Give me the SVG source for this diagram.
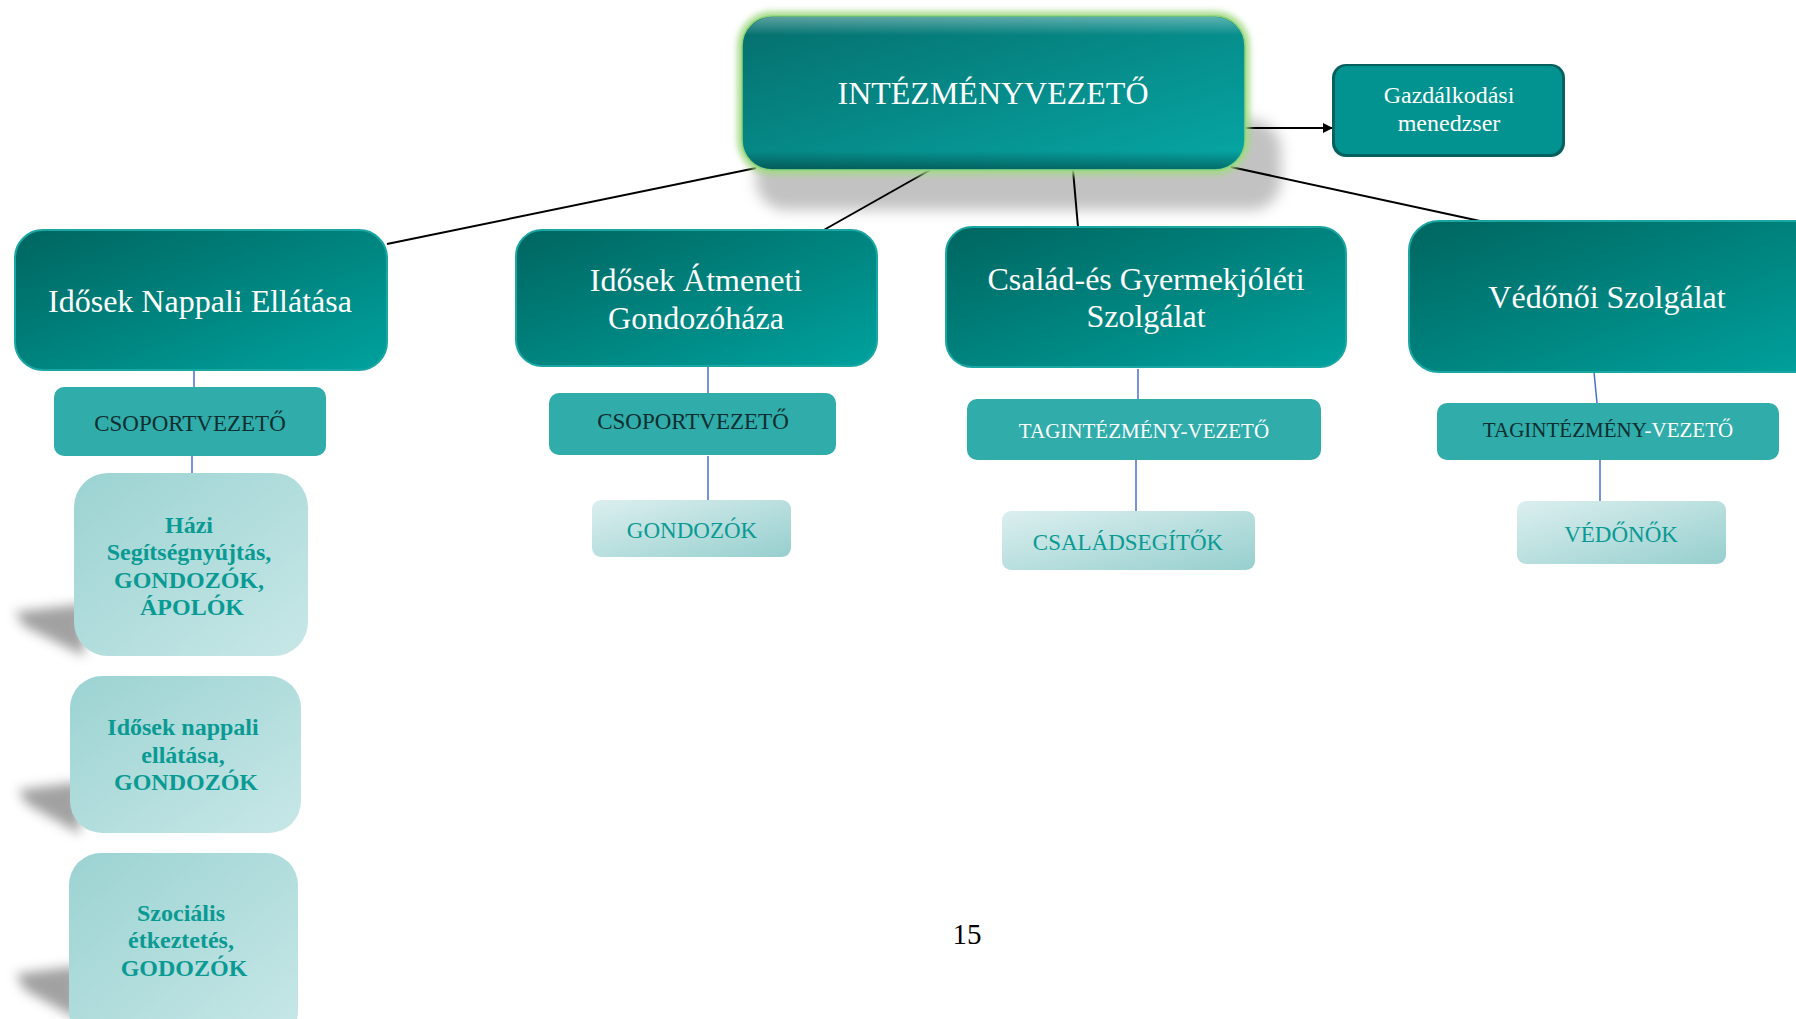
<svg xmlns="http://www.w3.org/2000/svg" width="1796" height="1019" viewBox="0 0 1796 1019">
<defs>
<linearGradient id="gDark" x1="0" y1="0" x2="1" y2="1">
<stop offset="0" stop-color="#00655f"/>
<stop offset="1" stop-color="#00a29e"/>
</linearGradient>
<linearGradient id="gTop" x1="0" y1="0" x2="1" y2="1">
<stop offset="0" stop-color="#056e6c"/>
<stop offset="1" stop-color="#06a8a6"/>
</linearGradient>
<linearGradient id="gLight" x1="0" y1="0" x2="1" y2="1">
<stop offset="0" stop-color="#9bd3d2"/>
<stop offset="1" stop-color="#c8e7e7"/>
</linearGradient>
<linearGradient id="gPale" x1="0" y1="0" x2="1" y2="1">
<stop offset="0" stop-color="#dcefef"/>
<stop offset="1" stop-color="#96cfce"/>
</linearGradient>
<linearGradient id="gHi" x1="0" y1="0" x2="0" y2="1">
<stop offset="0" stop-color="#ffffff" stop-opacity="0.35"/>
<stop offset="0.12" stop-color="#ffffff" stop-opacity="0"/>
<stop offset="0.88" stop-color="#000000" stop-opacity="0"/>
<stop offset="1" stop-color="#000000" stop-opacity="0.35"/>
</linearGradient>
<filter id="blur8" x="-20%" y="-50%" width="140%" height="200%"><feGaussianBlur stdDeviation="7"/></filter>
<filter id="blur4" x="-60%" y="-60%" width="220%" height="220%"><feGaussianBlur stdDeviation="6"/></filter>
<filter id="glow" x="-10%" y="-20%" width="120%" height="140%"><feGaussianBlur stdDeviation="3"/></filter>
<marker id="arr" markerWidth="10" markerHeight="10" refX="9" refY="5" orient="auto" markerUnits="userSpaceOnUse">
<path d="M0,0 L10,5 L0,10 Z" fill="#000"/>
</marker>
<style>
.serif{font-family:"Liberation Serif","Times New Roman",serif;}
.w{fill:#ffffff;}
.dk{fill:#0f2e2e;}
.tl{fill:#0a9a94;}
.l2{fill:url(#gDark);stroke:#1aa6a2;stroke-width:2;}
.l3{fill:#30acab;}
.l4{fill:url(#gLight);}
.l5{fill:url(#gPale);}
.conn{stroke:#000;stroke-width:2;fill:none;}
.blue{stroke:#4a6fd0;stroke-width:1.5;fill:none;}
.sh{fill:#8a8a8a;opacity:0.8;}
</style>
</defs>
<rect width="1796" height="1019" fill="#ffffff"/>

<rect x="756" y="120" width="525" height="90" rx="30" fill="#c2c2c2" filter="url(#blur8)"/>

<g id="connectors">
<line class="conn" x1="756" y1="168" x2="387" y2="244"/>
<line class="conn" x1="930" y1="170" x2="822" y2="231"/>
<line class="conn" x1="1073" y1="170" x2="1078" y2="227"/>
<line class="conn" x1="1231" y1="167" x2="1480" y2="221"/>
<line class="conn" x1="1245" y1="128" x2="1332" y2="128" marker-end="url(#arr)"/>
<line class="blue" x1="194" y1="370" x2="194" y2="387"/>
<line class="blue" x1="192" y1="456" x2="192" y2="473"/>
<line class="blue" x1="708" y1="367" x2="708" y2="393"/>
<line class="blue" x1="708" y1="456" x2="708" y2="501"/>
<line class="blue" x1="1138" y1="369" x2="1138" y2="399"/>
<line class="blue" x1="1136" y1="460" x2="1136" y2="511"/>
<line class="blue" x1="1594" y1="372" x2="1597" y2="403"/>
<line class="blue" x1="1600" y1="460" x2="1600" y2="512"/>
</g>

<g id="n-intezmenyvezeto">
<rect x="742" y="16" width="503" height="154" rx="30" fill="none" stroke="#a3da86" stroke-width="9" filter="url(#glow)"/>
<rect x="742" y="16" width="503" height="154" rx="30" fill="url(#gTop)" stroke="#8fd378" stroke-width="1.5"/>
<rect x="743" y="17" width="501" height="152" rx="29" fill="url(#gHi)"/>
<text class="serif w" x="993" y="104" font-size="32" text-anchor="middle">INTÉZMÉNYVEZETŐ</text>
</g>

<g id="n-gazdalkodasi">
<rect x="1332" y="64" width="233" height="93" rx="14" fill="#05605e"/>
<rect x="1335" y="66" width="227" height="88" rx="12" fill="#02928f"/>
<text class="serif w" x="1449" y="103" font-size="24" text-anchor="middle">Gazdálkodási</text>
<text class="serif w" x="1449" y="131" font-size="24" text-anchor="middle">menedzser</text>
</g>

<g id="n-nappali">
<rect class="l2" x="15" y="230" width="372" height="140" rx="28"/>
<text class="serif w" x="200" y="312" font-size="32" text-anchor="middle">Idősek Nappali Ellátása</text>
</g>

<g id="n-atmeneti">
<rect class="l2" x="516" y="230" width="361" height="136" rx="26"/>
<text class="serif w" x="696" y="291" font-size="32" text-anchor="middle">Idősek Átmeneti</text>
<text class="serif w" x="696" y="329" font-size="32" text-anchor="middle">Gondozóháza</text>
</g>

<g id="n-csalad">
<rect class="l2" x="946" y="227" width="400" height="140" rx="26"/>
<text class="serif w" x="1146" y="290" font-size="32" text-anchor="middle">Család-és Gyermekjóléti</text>
<text class="serif w" x="1146" y="327" font-size="32" text-anchor="middle">Szolgálat</text>
</g>

<g id="n-vedonoi">
<rect class="l2" x="1409" y="221" width="420" height="151" rx="30"/>
<text class="serif w" x="1607" y="308" font-size="32" text-anchor="middle">Védőnői Szolgálat</text>
</g>

<g id="n-csop1">
<rect class="l3" x="54" y="387" width="272" height="69" rx="10"/>
<text class="serif dk" x="190" y="431" font-size="23" text-anchor="middle">CSOPORTVEZETŐ</text>
</g>

<g id="n-csop2">
<rect class="l3" x="549" y="393" width="287" height="62" rx="10"/>
<text class="serif dk" x="693" y="429" font-size="23" text-anchor="middle">CSOPORTVEZETŐ</text>
</g>

<g id="n-tag3">
<rect class="l3" x="967" y="399" width="354" height="61" rx="10"/>
<text class="serif w" x="1144" y="438" font-size="21" text-anchor="middle">TAGINTÉZMÉNY-VEZETŐ</text>
</g>

<g id="n-tag4">
<rect class="l3" x="1437" y="403" width="342" height="57" rx="10"/>
<text class="serif" x="1608" y="437" font-size="21" text-anchor="middle"><tspan class="dk">TAGINTÉZMÉNY</tspan><tspan class="w">-VEZETŐ</tspan></text>
</g>

<g id="n-hazi">
<path class="sh" d="M15,612 L84,604 L84,656 L24,626 Z" filter="url(#blur4)"/>
<rect class="l4" x="74" y="473" width="234" height="183" rx="34"/>
<text class="serif tl" font-size="24" font-weight="bold" text-anchor="middle">
<tspan x="192" y="533">Házi</tspan>
<tspan x="192" y="560">Segítségnyújtás,</tspan>
<tspan x="192" y="588">GONDOZÓK,</tspan>
<tspan x="192" y="615">ÁPOLÓK</tspan>
</text>
</g>

<g id="n-nappali-gond">
<path class="sh" d="M18,790 L80,782 L80,834 L27,804 Z" filter="url(#blur4)"/>
<rect class="l4" x="70" y="676" width="231" height="157" rx="32"/>
<text class="serif tl" font-size="24" font-weight="bold" text-anchor="middle">
<tspan x="186" y="735">Idősek nappali</tspan>
<tspan x="186" y="763">ellátása,</tspan>
<tspan x="186" y="790">GONDOZÓK</tspan>
</text>
</g>

<g id="n-szocialis">
<path class="sh" d="M16,974 L78,966 L78,1019 L25,990 Z" filter="url(#blur4)"/>
<rect class="l4" x="69" y="853" width="229" height="190" rx="32"/>
<text class="serif tl" font-size="24" font-weight="bold" text-anchor="middle">
<tspan x="184" y="921">Szociális</tspan>
<tspan x="184" y="948">étkeztetés,</tspan>
<tspan x="184" y="976">GODOZÓK</tspan>
</text>
</g>

<g id="n-gondozok">
<rect class="l5" x="592" y="500" width="199" height="57" rx="9"/>
<text class="serif tl" x="692" y="538" font-size="23" text-anchor="middle">GONDOZÓK</text>
</g>

<g id="n-csaladsegitok">
<rect class="l5" x="1002" y="511" width="253" height="59" rx="9"/>
<text class="serif tl" x="1128" y="550" font-size="23" text-anchor="middle">CSALÁDSEGÍTŐK</text>
</g>

<g id="n-vedonok">
<rect class="l5" x="1517" y="501" width="209" height="63" rx="9"/>
<text class="serif tl" x="1621" y="542" font-size="23" text-anchor="middle">VÉDŐNŐK</text>
</g>

<text class="serif" x="967" y="944" font-size="29" text-anchor="middle" fill="#000">15</text>
</svg>
